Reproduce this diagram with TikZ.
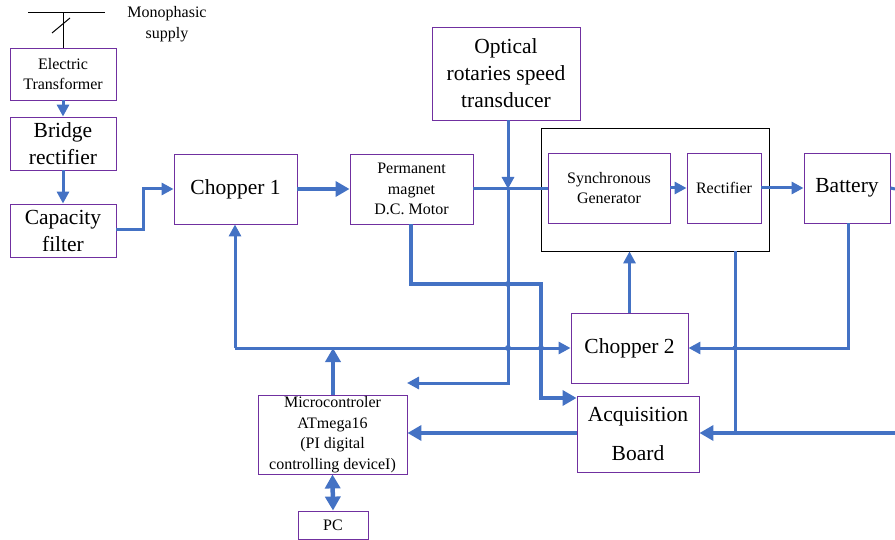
\documentclass[tikz,border=0pt]{standalone}
\usepackage{fontspec}
\setmainfont{Liberation Serif}
\usetikzlibrary{arrows.meta}
\definecolor{lblue}{HTML}{4472C4}
\definecolor{bpurple}{HTML}{7030A0}
\newcommand{\smalltxt}{\fontsize{16}{20.5}\selectfont}
\newcommand{\bigtxt}{\fontsize{21.5}{27}\selectfont}
\tikzset{
  blk/.style={draw=bpurple, line width=0.9pt, align=center, inner sep=0pt, fill=white},
  sblk/.style={blk, font=\smalltxt},
  bblk/.style={blk, font=\bigtxt},
  conn/.style={draw=lblue, line width=3pt},
  tconn/.style={draw=lblue, line width=4.5pt},
  arr/.style={conn, -{Triangle[length=12pt,width=12pt]}},
  tarr/.style={tconn, -{Triangle[length=14pt,width=15pt]}},
  hop/.style={fill=lblue, draw=none},
}
\begin{document}
\begin{tikzpicture}[x=1pt,y=-1pt]
\useasboundingbox (0,0) rectangle (895,540);
% boxes
\node[draw=black, line width=0.8pt, minimum width=228pt, minimum height=123pt, inner sep=0pt] (big) at (655,189.5) {};
\node[sblk, minimum width=106pt, minimum height=52pt] (trans) at (63,74) {Electric\\Transformer};
\node[bblk, minimum width=106pt, minimum height=53pt] (bridge) at (63,143.5) {Bridge\\rectifier};
\node[bblk, minimum width=106pt, minimum height=53pt] (capf) at (63,230.5) {Capacity\\filter};
\node[bblk, minimum width=123pt, minimum height=70pt] (ch1) at (235.5,189) {Chopper 1};
\node[sblk, minimum width=123pt, minimum height=70pt] (motor) at (411.5,189) {Permanent\\magnet\\D.C. Motor};
\node[bblk, minimum width=148pt, minimum height=93pt] (opt) at (506,73.5) {Optical\\rotaries speed\\transducer};
\node[sblk, minimum width=122pt, minimum height=70pt] (sync) at (609,188) {Synchronous\\Generator};
\node[sblk, minimum width=74pt, minimum height=70pt] (rect) at (724,188) {Rectifier};
\node[bblk, minimum width=86pt, minimum height=70pt] (bat) at (847,188) {Battery};
\node[bblk, minimum width=117pt, minimum height=70pt] (ch2) at (629.5,348) {Chopper 2};
\node[bblk, minimum width=122pt, minimum height=76pt] (acq) at (638,434) {Acquisition\\[12pt]Board};
\node[sblk, minimum width=149pt, minimum height=79pt] (mic) at (332.5,434.5) {Microcontroler\\ATmega16\\(PI digital\\controlling deviceI)};
\node[sblk, minimum width=70pt, minimum height=28pt] (pc) at (333,525) {PC};
% supply
\node[font=\smalltxt, align=center, inner sep=0pt] (sup) at (167,24) {Monophasic\\supply};
\coordinate (sl) at (28,13);
\coordinate (sr) at (105,13);
\coordinate (st) at (63,13);
\draw[line width=1pt] (sl) -- (sr);
\draw[line width=1pt] (st) -- (trans.north);
\draw[line width=1pt] (52,33) -- (70,18);
% left chain
\draw[arr] (trans.south) -- (bridge.north);
\draw[arr] (bridge.south) -- (capf.north);
\draw[arr] (capf.east |- 0,230) -- (143,230) -- (143,189) -- (ch1.west);
\draw[tarr] (ch1.east) -- (motor.west);
\draw[conn] (motor.east) -- (sync.west |- 0,189);
% optical
\coordinate (o1) at (508,189);
\coordinate (o2) at (508,383);
\coordinate (o3) at (407,383);
\draw[arr] (opt.south -| o1) -- (o1);
\draw[arr] (o1) -- (o2) -- (o3);
% generator chain
\draw[arr] (sync.east) -- (rect.west);
\draw[arr] (rect.east) -- (bat.west);
\coordinate (bo) at (895,189);
\draw[conn] (bat.east) -- (bo);
\coordinate (b1) at (848,348);
\draw[arr] (bat.south -| b1) -- (b1) -- (ch2.east);
\draw[arr] (ch2.north) -- (ch2.north |- big.south);
% rectifier to acquisition
\coordinate (r1) at (735,433);
\coordinate (re) at (895,433);
\draw[conn] (big.south -| r1) -- (r1);
\draw[tarr] (re) -- (acq.east |- re);
% motor to acquisition
\coordinate (m1) at (411,284);
\coordinate (m2) at (541,284);
\coordinate (m3) at (541,398);
\draw[tarr] (motor.south -| m1) -- (m1) -- (m2) -- (m3) -- (acq.west |- m3);
% chopper feedback
\coordinate (c1) at (235,348);
\draw[arr] (c1) -- (ch1.south -| c1);
\draw[arr] (c1) -- (ch2.west);
\coordinate (u1) at (333,348);
\draw[tarr] (mic.north -| u1) -- (u1);
\draw[tarr] (acq.west |- 0,433) -- (mic.east |- 0,433);
\draw[tconn, {Triangle[length=14pt,width=15pt]}-{Triangle[length=14pt,width=15pt]}] (mic.south) -- (pc.north);
% hops
\fill[hop] (508,284) circle (3pt);
\fill[hop] (508,348) circle (3pt);
\fill[hop] (541,348) circle (3pt);
\fill[hop] (735,348) circle (2.6pt);
\end{tikzpicture}
\end{document}
